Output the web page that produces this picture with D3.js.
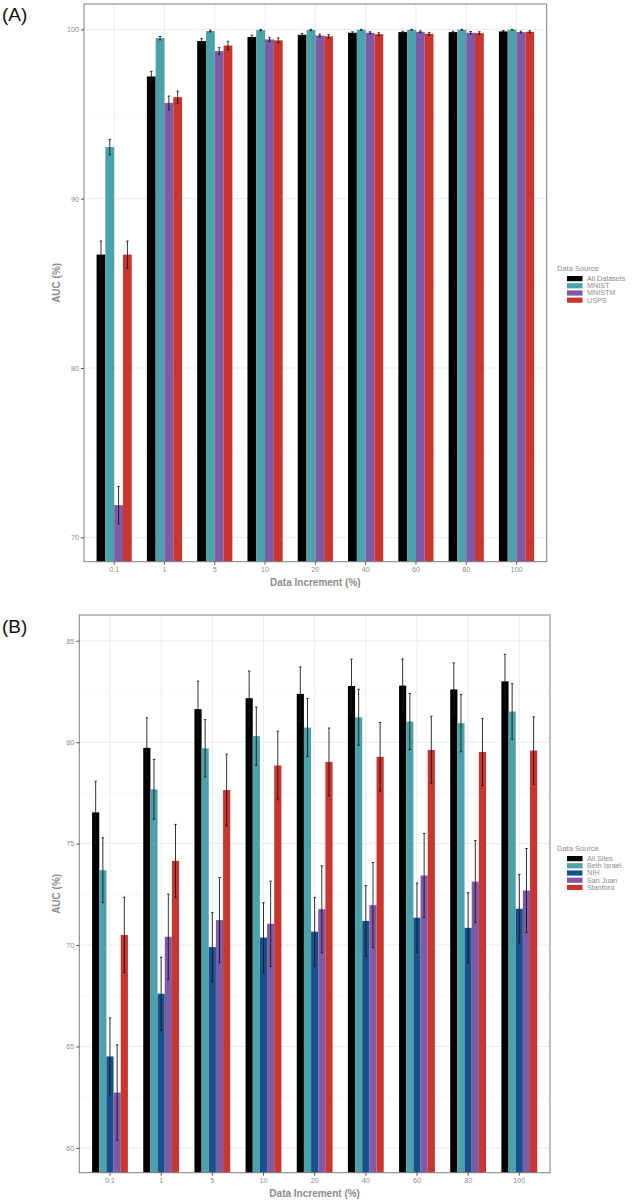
<!DOCTYPE html>
<html><head><meta charset="utf-8">
<script src="https://cdn.jsdelivr.net/npm/d3@7"></script>
<style>body{margin:0;background:#fff;} svg{display:block;font-family:"Liberation Sans",Arial,sans-serif;}</style>
</head><body>
<svg id="c" width="633" height="1204"></svg>
<script>
// ---------- DATA ----------
const categories = ["0.1","1","5","10","20","40","60","80","100"];

// Panel A
const seriesA = ["All Datasets","MNIST","MNISTM","USPS"];
const colorsA = ["#000000","#4ba2aa","#7f5aa6","#c8362f"];
const allDatasetsA = [86.7, 97.22, 99.31, 99.55, 99.68, 99.80, 99.84, 99.84, 99.88];
const allDatasetsErrA = [0.8, 0.3, 0.15, 0.1, 0.08, 0.06, 0.05, 0.05, 0.05];
const mnistA = [93.05, 99.48, 99.90, 99.96, 99.96, 99.98, 99.98, 99.98, 99.98];
const mnistErrA = [0.45, 0.1, 0.05, 0.03, 0.03, 0.02, 0.02, 0.02, 0.02];
const mnistmA = [71.9, 95.66, 98.72, 99.41, 99.64, 99.80, 99.86, 99.80, 99.84];
const mnistmErrA = [1.1, 0.4, 0.2, 0.12, 0.08, 0.06, 0.05, 0.08, 0.05];
const uspsA = [86.7, 96.0, 99.05, 99.35, 99.59, 99.72, 99.74, 99.78, 99.86];
const uspsErrA = [0.8, 0.35, 0.25, 0.15, 0.1, 0.08, 0.08, 0.08, 0.06];
const yTicksA = [70, 80, 90, 100];
const yMinorA = [75, 85, 95];

// Panel B
const seriesB = ["All Sites","Beth Israel","NIH","San Juan","Stanford"];
const colorsB = ["#000000","#4ba2aa","#17508a","#7f5aa6","#c8362f"];
const allSitesB = [76.54, 79.72, 81.63, 82.17, 82.38, 82.77, 82.79, 82.60, 83.00];
const allSitesErrB = [1.54, 1.48, 1.38, 1.34, 1.33, 1.32, 1.31, 1.31, 1.33];
const bethIsraelB = [73.69, 77.68, 79.70, 80.30, 80.72, 81.23, 81.02, 80.94, 81.51];
const bethIsraelErrB = [1.6, 1.47, 1.41, 1.43, 1.43, 1.38, 1.38, 1.41, 1.38];
const nihB = [64.51, 67.60, 69.90, 70.37, 70.66, 71.19, 71.35, 70.85, 71.79];
const nihErrB = [1.9, 1.8, 1.7, 1.72, 1.69, 1.74, 1.71, 1.73, 1.69];
const sanJuanB = [62.73, 70.41, 71.23, 71.05, 71.77, 71.97, 73.43, 73.13, 72.69];
const sanJuanErrB = [2.35, 2.1, 2.1, 2.1, 2.14, 2.1, 2.07, 2.02, 2.07];
const stanfordB = [70.50, 74.15, 77.64, 78.85, 79.03, 79.28, 79.62, 79.52, 79.59];
const stanfordErrB = [1.86, 1.8, 1.77, 1.69, 1.67, 1.69, 1.66, 1.65, 1.66];
const yTicksB = [60, 65, 70, 75, 80, 85];
const yMinorB = [62.5, 67.5, 72.5, 77.5, 82.5];

// ---------- DRAW ----------
const svg = d3.select("#c");
const gray = "#8c8c8c";

function panel(cfg) {
  const {left, right, top, bottom, yDomain, series, colors, values, errs, ticks, minor, label, labelY, legendY, id} = cfg;
  const x = d3.scaleBand().domain(categories).range([left, right]).paddingInner(0.3).paddingOuter(0.25);
  const xs = d3.scaleBand().domain(series).range([0, x.bandwidth()]).padding(0);
  const y = d3.scaleLinear().domain(yDomain).range([bottom, top]);
  const g = svg.append("g");

  g.append("clipPath").attr("id", id).append("rect")
    .attr("x", left).attr("y", top).attr("width", right-left).attr("height", bottom-top);

  // grid
  g.selectAll(".mn").data(minor).join("line")
    .attr("x1", left).attr("x2", right).attr("y1", d=>y(d)).attr("y2", d=>y(d))
    .attr("stroke", "#f3f3f3").attr("stroke-width", 0.6);
  g.selectAll(".mj").data(ticks).join("line")
    .attr("x1", left).attr("x2", right).attr("y1", d=>y(d)).attr("y2", d=>y(d))
    .attr("stroke", "#ebebeb").attr("stroke-width", 1);
  g.selectAll(".vx").data(categories).join("line")
    .attr("x1", d=>x(d)+x.bandwidth()/2).attr("x2", d=>x(d)+x.bandwidth()/2)
    .attr("y1", top).attr("y2", bottom)
    .attr("stroke", "#ebebeb").attr("stroke-width", 1);

  const plot = g.append("g").attr("clip-path", `url(#${id})`);
  series.forEach((s, si) => {
    const vals = values[si], er = errs[si];
    plot.selectAll(null).data(categories).join("rect")
      .attr("x", (c)=>x(c)+xs(s))
      .attr("width", xs.bandwidth())
      .attr("y", (c,i)=>y(vals[i]))
      .attr("height", (c,i)=>Math.max(0, bottom + 2 - y(vals[i])))
      .attr("fill", colors[si]);
  });
  series.forEach((s, si) => {
    const vals = values[si], er = errs[si];
    const cx = c => x(c)+xs(s)+xs.bandwidth()/2;
    const eg = plot.selectAll(null).data(categories).join("g").attr("stroke", "#1a1a1a").attr("stroke-width", 0.9);
    eg.append("line").attr("x1", cx).attr("x2", cx)
      .attr("y1", (c,i)=>y(vals[i]-er[i])).attr("y2", (c,i)=>y(vals[i]+er[i]));
    eg.append("line").attr("x1", c=>cx(c)-1.2).attr("x2", c=>cx(c)+1.2)
      .attr("y1", (c,i)=>y(vals[i]+er[i])).attr("y2", (c,i)=>y(vals[i]+er[i]));
    eg.append("line").attr("x1", c=>cx(c)-1.2).attr("x2", c=>cx(c)+1.2)
      .attr("y1", (c,i)=>y(vals[i]-er[i])).attr("y2", (c,i)=>y(vals[i]-er[i]));
  });

  // border
  g.append("rect").attr("x", left).attr("y", top).attr("width", right-left).attr("height", bottom-top)
    .attr("fill", "none").attr("stroke", "#7f7f7f").attr("stroke-width", 1);

  // axes
  const ya = g.append("g").attr("transform", `translate(${left},0)`)
    .call(d3.axisLeft(y).tickValues(ticks).tickSize(3).tickPadding(2).tickFormat(d3.format("d")));
  ya.select(".domain").remove();
  ya.selectAll("line").attr("stroke", "#555");
  ya.selectAll("text").attr("fill", gray).attr("font-size", 7.2);
  const xa = g.append("g").attr("transform", `translate(0,${bottom})`)
    .call(d3.axisBottom(x).tickSize(3).tickPadding(2));
  xa.select(".domain").remove();
  xa.selectAll("line").attr("stroke", "#555");
  xa.selectAll("text").attr("fill", gray).attr("font-size", 7.2);

  g.append("text").attr("x", (left+right)/2).attr("y", bottom+24).attr("text-anchor", "middle")
    .attr("font-size", 10).attr("font-weight", "bold").attr("fill", gray).text("Data Increment (%)");
  g.append("text").attr("transform", `translate(60,${(top+bottom)/2}) rotate(-90)`).attr("text-anchor", "middle")
    .attr("font-size", 10).attr("font-weight", "bold").attr("fill", gray).text("AUC (%)");

  g.append("text").attr("x", 2).attr("y", labelY).attr("font-size", 19).attr("fill", "#111").text(label);

  // legend
  const lg = g.append("g").attr("transform", `translate(557,${legendY})`);
  lg.append("text").attr("x", 0).attr("y", 0).attr("font-size", 7.5).attr("fill", gray).text("Data Source");
  series.forEach((s, si) => {
    lg.append("rect").attr("x", 10).attr("y", 5 + si*7.2).attr("width", 15.5).attr("height", 5.2).attr("fill", colors[si]);
    lg.append("text").attr("x", 30).attr("y", 10 + si*7.2).attr("font-size", 7.2).attr("fill", gray).text(s);
  });
}

panel({id:"clipA", left:84, right:546.7, top:4, bottom:561.7, yDomain:[68.56, 101.5],
  series: seriesA, colors: colorsA,
  values: [allDatasetsA, mnistA, mnistmA, uspsA], errs: [allDatasetsErrA, mnistErrA, mnistmErrA, uspsErrA],
  ticks: yTicksA, minor: yMinorA, label: "(A)", labelY: 21, legendY: 271});

panel({id:"clipB", left:79.3, right:550, top:615, bottom:1172.7, yDomain:[58.78, 86.27],
  series: seriesB, colors: colorsB,
  values: [allSitesB, bethIsraelB, nihB, sanJuanB, stanfordB], errs: [allSitesErrB, bethIsraelErrB, nihErrB, sanJuanErrB, stanfordErrB],
  ticks: yTicksB, minor: yMinorB, label: "(B)", labelY: 633, legendY: 851});
</script>
</body></html>
